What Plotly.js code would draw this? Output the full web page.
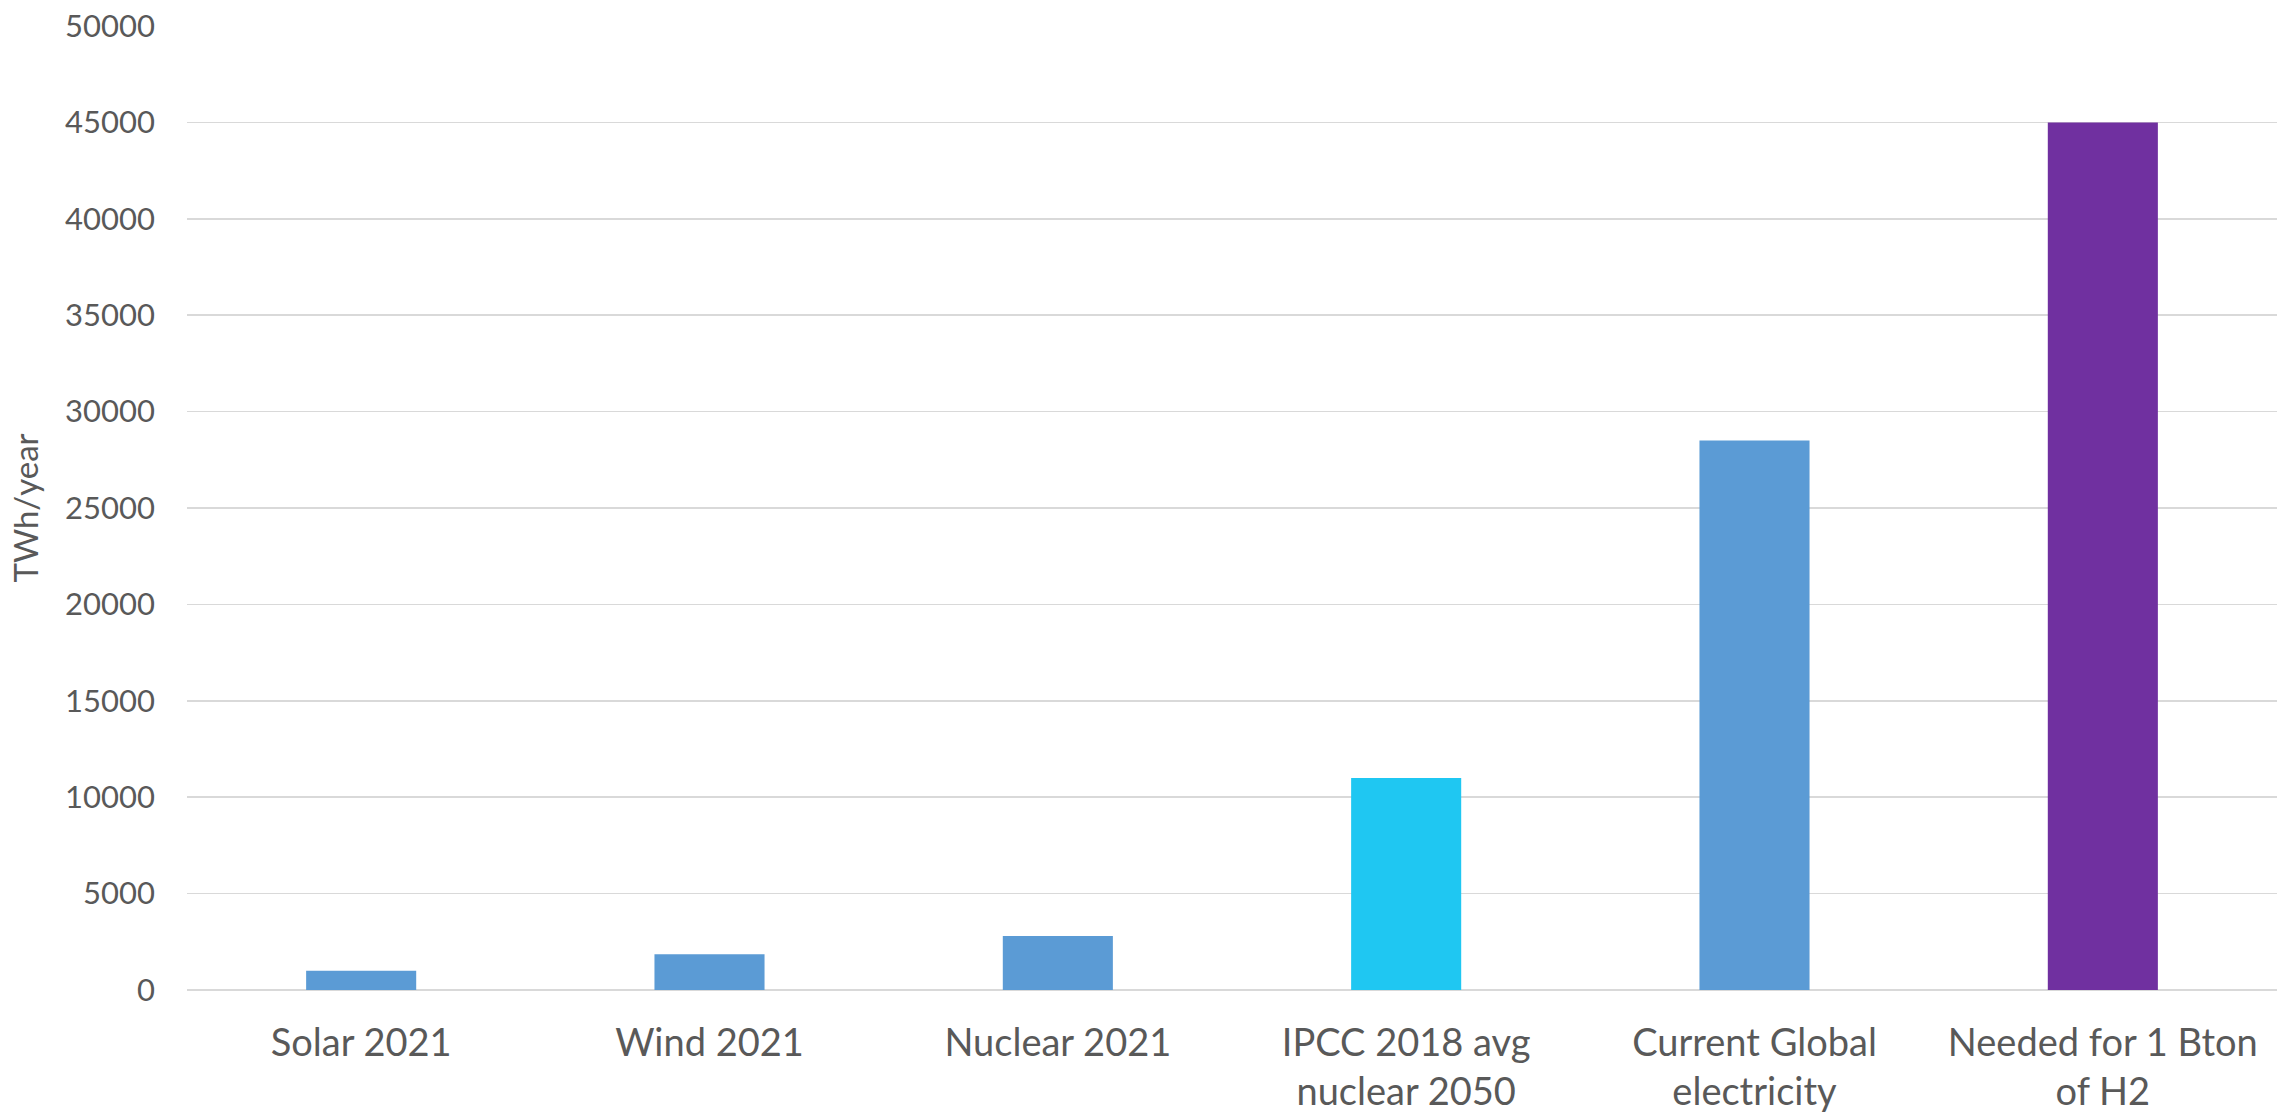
<!DOCTYPE html>
<html>
<head>
<meta charset="utf-8">
<script src="https://cdn.plot.ly/plotly-3.0.1.min.js"></script>
<style>
  html, body { margin: 0; padding: 0; background: #ffffff; }
  #chart { width: 2292px; height: 1117px; }
</style>
</head>
<body>
<div id="chart"></div>
<script>
// Electricity generation compared with what 1 billion tonnes of hydrogen would need
const categories = [
  "Solar 2021",
  "Wind 2021",
  "Nuclear 2021",
  "IPCC 2018 avg<br>nuclear 2050",
  "Current Global<br>electricity",
  "Needed for 1 Bton<br>of H2"
];
const twhPerYear = [1000, 1850, 2800, 11000, 28500, 45000];
const yTickValues = [0, 5000, 10000, 15000, 20000, 25000, 30000, 35000, 40000, 45000, 50000];

// Bar fills, one per category
const barColors = ["#5B9BD5", "#5B9BD5", "#5B9BD5", "#1FC7F2", "#5B9BD5", "#7030A0"];

const textColor = "#595959";
const fontFamily = "Lato, 'Open Sans', sans-serif";

const trace = {
  type: "bar",
  x: categories,
  y: twhPerYear,
  marker: { color: barColors, line: { width: 0 } },
  hoverinfo: "x+y"
};

const layout = {
  width: 2292,
  height: 1117,
  margin: { l: 187, r: 15, t: 26, b: 127 },
  paper_bgcolor: "#ffffff",
  plot_bgcolor: "#ffffff",
  showlegend: false,
  bargap: 0.684,
  font: { family: fontFamily, color: textColor },
  xaxis: {
    type: "category",
    showgrid: false,
    zeroline: false,
    showline: false,
    ticks: "",
    ticklabelstandoff: 27,
    tickfont: { family: fontFamily, size: 38, color: textColor }
  },
  yaxis: {
    range: [0, 50000],
    tickvals: yTickValues,
    ticktext: yTickValues.map(String),
    showgrid: true,
    gridcolor: "#D9D9D9",
    gridwidth: 1.5,
    zeroline: true,
    zerolinecolor: "#D9D9D9",
    zerolinewidth: 2,
    showline: false,
    ticks: "",
    ticklabelstandoff: 31,
    tickfont: { family: fontFamily, size: 31, color: textColor },
    title: {
      text: "TWh/year",
      standoff: 16,
      font: { family: fontFamily, size: 33, color: textColor }
    }
  }
};

Plotly.newPlot("chart", [trace], layout, { displayModeBar: false, staticPlot: true });
</script>
</body>
</html>
